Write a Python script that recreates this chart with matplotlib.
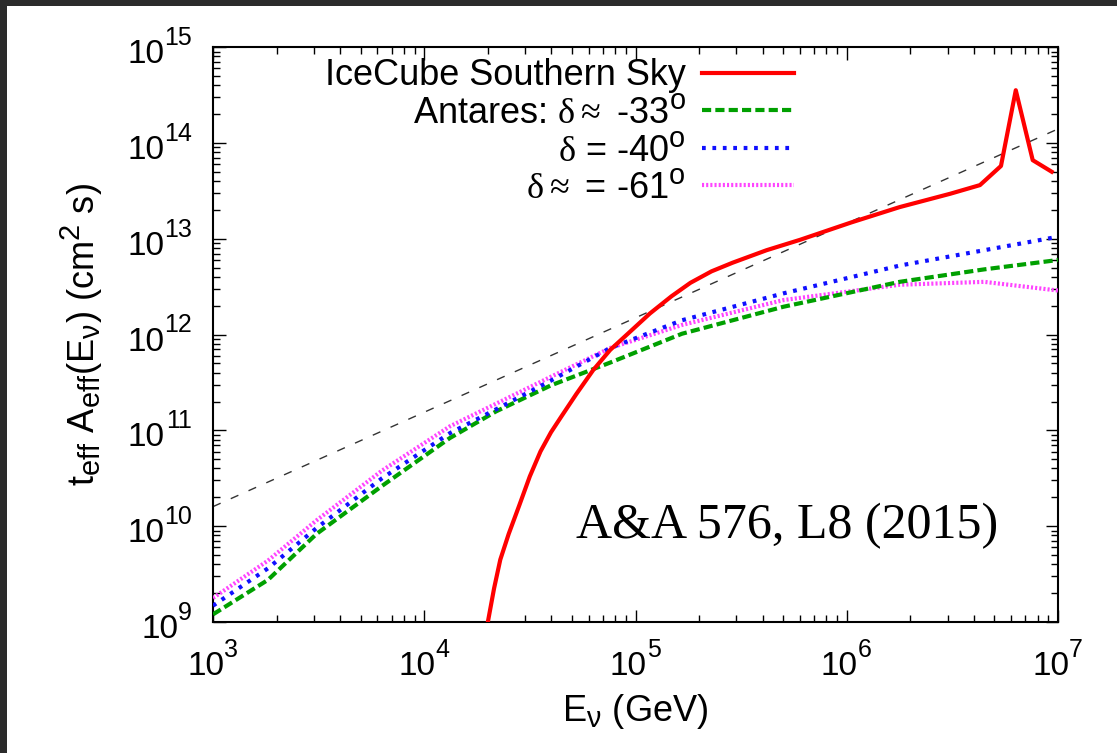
import numpy as np
import matplotlib
matplotlib.use("Agg")
import matplotlib.pyplot as plt
import matplotlib._mathtext as mathtext_internal
from matplotlib.patches import Rectangle
from matplotlib.ticker import LogLocator, FixedLocator, NullFormatter

# gnuplot-style sub/superscripts are bigger than the mathtext default
mathtext_internal.SHRINK_FACTOR = 0.8

plt.rcParams["font.family"] = ["Liberation Sans", "DejaVu Sans"]
plt.rcParams["mathtext.fontset"] = "custom"
plt.rcParams["mathtext.rm"] = "Liberation Serif"
plt.rcParams["mathtext.sf"] = "Liberation Sans"
plt.rcParams["mathtext.it"] = "Liberation Sans:italic"

# neutrino energy (GeV) and t_eff * A_eff (cm^2 s)
icecube_E = [2.0e4, 2.14e4, 2.29e4, 2.51e4, 2.82e4, 3.16e4, 3.55e4, 3.98e4, 4.47e4,
             5.25e4, 6.31e4, 7.59e4, 9.33e4, 1.17e5, 1.48e5, 1.82e5, 2.29e5, 2.88e5,
             4.17e5, 6.03e5, 1.05e6, 1.78e6, 3.09e6, 4.27e6, 5.37e6, 6.31e6, 7.59e6,
             9.33e6]
icecube_A = [1.0e9, 2.24e9, 4.47e9, 8.3e9, 1.66e10, 3.31e10, 6.03e10, 9.55e10, 1.41e11,
             2.4e11, 4.27e11, 6.92e11, 1.05e12, 1.66e12, 2.51e12, 3.47e12, 4.57e12, 5.62e12,
             7.59e12, 9.77e12, 1.48e13, 2.14e13, 2.95e13, 3.63e13, 5.75e13, 3.55e14, 6.61e13,
             5.01e13]

antares_E = [1.0e3, 1.82e3, 3.09e3, 6.31e3, 1.32e4, 2.19e4, 3.98e4, 7.59e4, 1.66e5,
             5.01e5, 1.78e6, 4.47e6, 1.0e7]
antares33_A = [1.2e9, 2.75e9, 8.3e9, 2.63e10, 8.3e10, 1.58e11, 2.95e11, 5.1e11, 1.02e12,
               1.95e12, 3.55e12, 4.79e12, 6.0e12]
antares40_A = [1.48e9, 3.63e9, 9.55e9, 3.16e10, 9.33e10, 1.66e11, 3.31e11, 7.24e11, 1.41e12,
               2.69e12, 5.25e12, 7.59e12, 1.05e13]
antares61_A = [1.78e9, 4.37e9, 1.15e10, 3.8e10, 1.1e11, 1.9e11, 3.63e11, 7.24e11, 1.26e12,
               2.29e12, 3.31e12, 3.55e12, 2.88e12]

ref_E = [1.0e3, 1.0e7]
ref_A = [1.6e10, 1.4e14]

x_exponents = [3, 4, 5, 6, 7]
y_exponents = [9, 10, 11, 12, 13, 14, 15]

fig = plt.figure(figsize=(11.17, 7.53), dpi=100, facecolor="#2b2b2b")
fig.patches.append(Rectangle((7 / 1117, 0), 1, 1 - 6 / 753, transform=fig.transFigure,
                             facecolor="white", edgecolor="none", zorder=-10))
ax = fig.add_axes([0.1907, 0.174, 0.7565, 0.7634])

ax.plot(ref_E, ref_A, color="#333333", lw=1.0, dashes=(6, 8), zorder=2)
ax.plot(icecube_E, icecube_A, color="#ff0000", lw=3.0, label="IceCube Southern Sky", zorder=5)
ax.plot(antares_E, antares33_A, color="#00a000", lw=3.0, dashes=(2.2, 1.0),
        label=r"Antares: $\mathrm{\delta \approx}$ -33$^{\mathsf{o}}$", zorder=4)
ax.plot(antares_E, antares40_A, color="#1010ff", lw=3.0, dashes=(0.9, 1.6),
        label=r"$\mathrm{\delta}$ = -40$^{\mathsf{o}}$", zorder=4)
ax.plot(antares_E, antares61_A, color="#ff44ff", lw=3.0, dashes=(0.5, 0.5),
        label=r"$\mathrm{\delta \approx}$ = -61$^{\mathsf{o}}$", zorder=3)

ax.set_xscale("log")
ax.set_yscale("log")
ax.set_xlim(1e3, 1e7)
ax.set_ylim(1e9, 1e15)

ax.xaxis.set_major_locator(FixedLocator([10.0 ** e for e in x_exponents]))
ax.yaxis.set_major_locator(FixedLocator([10.0 ** e for e in y_exponents]))
ax.xaxis.set_minor_locator(LogLocator(base=10, subs=np.arange(2, 10), numticks=20))
ax.yaxis.set_minor_locator(LogLocator(base=10, subs=np.arange(2, 10), numticks=20))
for axis in (ax.xaxis, ax.yaxis):
    axis.set_major_formatter(NullFormatter())
    axis.set_minor_formatter(NullFormatter())

ax.tick_params(which="both", direction="in", top=True, right=True, width=1.0, color="black")
ax.tick_params(which="major", length=9)
ax.tick_params(which="minor", length=5)
for s in ax.spines.values():
    s.set_linewidth(1.5)

# tick labels drawn as "10" plus a large exponent, gnuplot style
base_fs, exp_fs = 24, 18
for e in x_exponents:
    ax.annotate("10", xy=(10.0 ** e, 0), xycoords=("data", "axes fraction"),
                xytext=(8, -38), textcoords="offset points", ha="right", va="baseline",
                fontsize=base_fs)
    ax.annotate(str(e), xy=(10.0 ** e, 0), xycoords=("data", "axes fraction"),
                xytext=(8, -25), textcoords="offset points", ha="left", va="baseline",
                fontsize=exp_fs)
for e in y_exponents:
    exp_w = 0.556 * exp_fs * len(str(e))
    ax.annotate("10", xy=(0, 10.0 ** e), xycoords=("axes fraction", "data"),
                xytext=(-15 - exp_w, -11.5), textcoords="offset points", ha="right",
                va="baseline", fontsize=base_fs)
    ax.annotate(str(e), xy=(0, 10.0 ** e), xycoords=("axes fraction", "data"),
                xytext=(-15, 1.5), textcoords="offset points", ha="right", va="baseline",
                fontsize=exp_fs)

ax.set_xlabel(r"$\mathsf{E_{\nu}}$ (GeV)", fontsize=26)
ax.xaxis.set_label_coords(0.5, -0.122)
ax.set_ylabel(r"$\mathsf{t_{eff}\ A_{eff}(E_{\nu})\ (cm^{2}\ s)}$", fontsize=26)
ax.yaxis.set_label_coords(-0.128, 0.5)

ax.text(0.679, 0.167, "A&A 576, L8 (2015)", transform=ax.transAxes, fontsize=36,
        family="Liberation Serif", ha="center", va="center")

ax.legend(loc="upper right", bbox_to_anchor=(0.713, 1.018), frameon=False, markerfirst=False,
          fontsize=26, handlelength=2.55, handletextpad=0.45, labelspacing=0.07,
          borderaxespad=0.2)

fig.savefig("out.png", dpi=100, facecolor=fig.get_facecolor())
